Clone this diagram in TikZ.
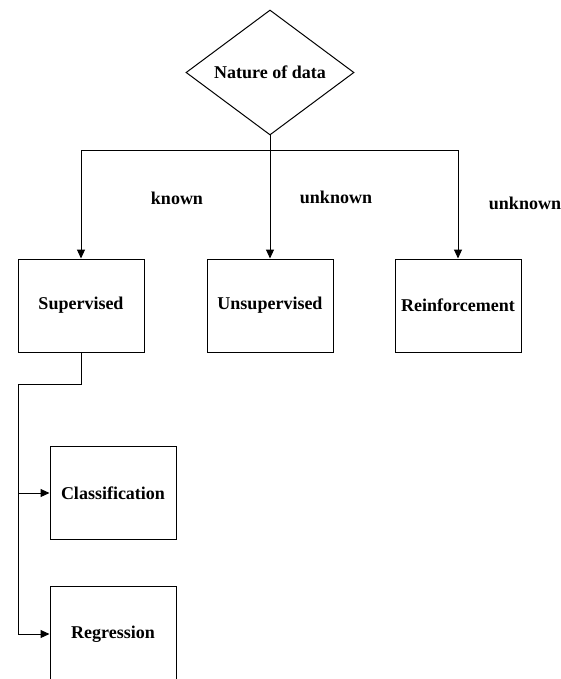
\documentclass[tikz,border=0pt]{standalone}
\usepackage{fontspec}
\setmainfont{Liberation Serif}
\usetikzlibrary{shapes.geometric,arrows.meta}

\begin{document}
\begin{tikzpicture}[x=1pt, y=-1pt, line width=1pt,
    box/.style = {draw, rectangle, minimum width=126pt, minimum height=93pt, inner sep=0pt},
    decision/.style = {draw, diamond, aspect=1.34, minimum width=168pt, minimum height=125pt, inner sep=0pt},
    lbl/.style = {inner sep=0pt},
    font = \bfseries\fontsize{18}{20}\selectfont,
    >={Triangle[length=9pt, width=8pt]}]
	\useasboundingbox (0,0) rectangle (561,679);
	\node[decision] (dia) at (270,72.5) {Nature of data};
	\node[box] (sup) at (81,305.5) {Supervised};
	\node[box] (uns) at (270,305.5) {Unsupervised};
	\node[box] (rei) at (458,305.5) {Reinforcement};
	\node[box] (cla) at (113,493) {Classification};
	\node[box, minimum height=96pt] (reg) at (113,634) {Regression};
	\node[lbl] (k) at (177,198) {known};
	\node[lbl] (u1) at (336,197) {unknown};
	\node[lbl] (u2) at (525,203) {unknown};
	\coordinate (bus) at (270,151);
	\coordinate (sbend) at (18,384);
	\draw[->] (dia.south) -- (uns.north);
	\draw[->] (bus) -| (sup.north);
	\draw[->] (bus) -| (rei.north);
	\draw[->] (sup.south) |- (sbend) |- (cla.west);
	\draw[->] (sbend) |- (reg.west);
\end{tikzpicture}
\end{document}
